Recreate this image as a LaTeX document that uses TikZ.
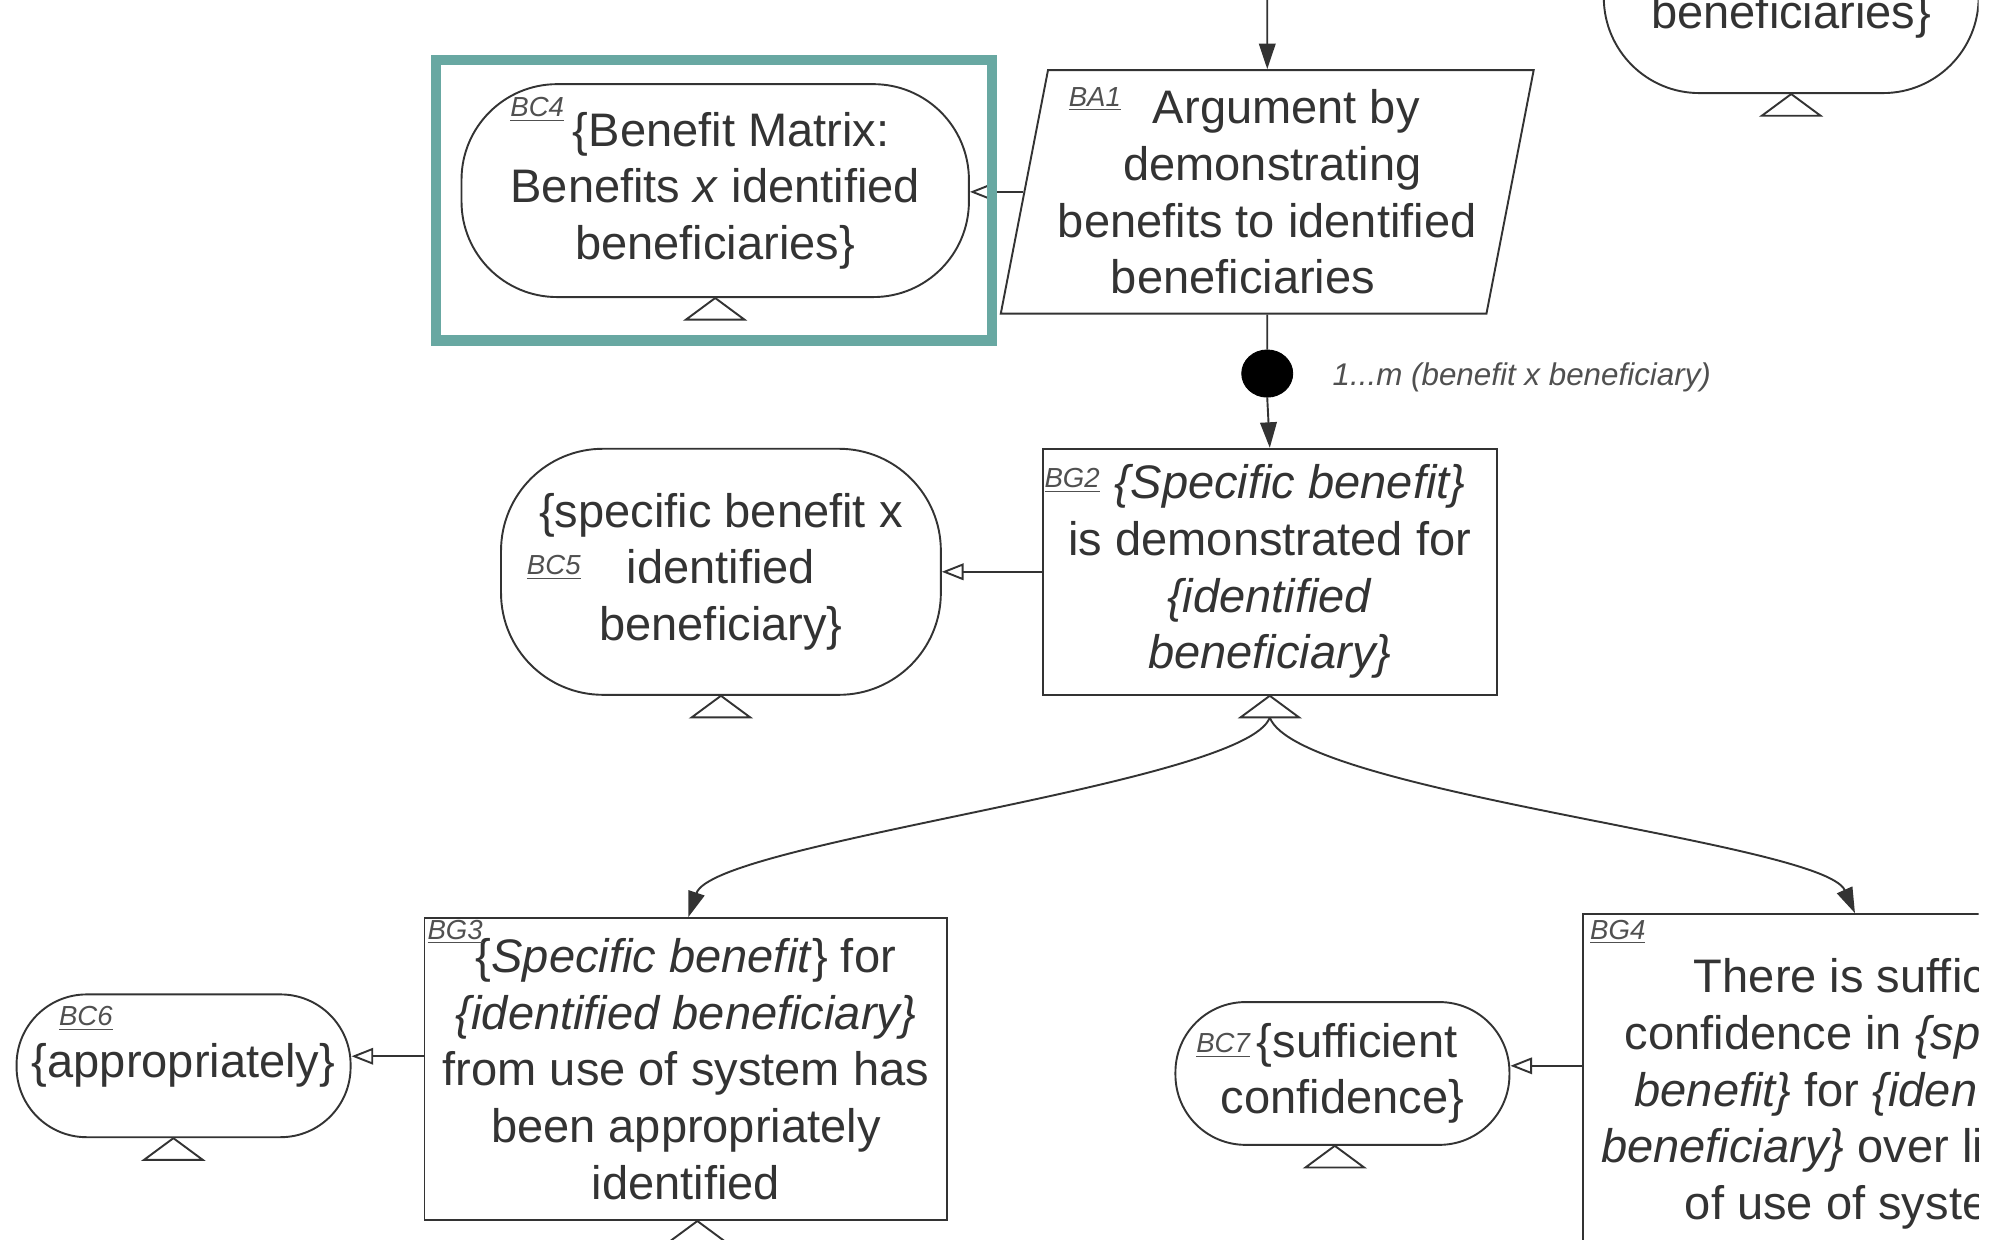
\documentclass[tikz,border=0pt]{standalone}
\usepackage{fontspec}
\setmainfont{Liberation Sans}
\usetikzlibrary{arrows.meta,calc,shapes.geometric}

\definecolor{ink}{HTML}{333333}
\definecolor{tagc}{HTML}{505050}
\definecolor{frameteal}{RGB}{104,168,162}

% hollow "undeveloped" triangle hanging below an element
\newcommand\undevmark[1]{\draw[undev] (#1) -- ++(-23,17) -- ++(46,0) -- cycle;}
\newcommand\tagtext[1]{\underline{#1}}

\begin{document}
\begin{tikzpicture}[x=0.2mm,y=-0.2mm,
  body/.style={font=\fontsize{21}{25.3}\selectfont, text=ink, align=center},
  goal/.style={body, draw=ink, line width=0.3mm, rectangle, inner sep=0pt},
  context/.style={body, draw=ink, line width=0.3mm, rectangle, rounded corners=#1, inner sep=0pt},
  strategy/.style={body, draw=ink, line width=0.3mm, trapezium, trapezium left angle=77,
    trapezium right angle=103, trapezium stretches body, inner sep=0pt},
  tag/.style={font=\fontsize{12.3}{14}\selectfont\itshape, text=tagc, inner sep=0pt, anchor=west},
  link/.style={draw=ink, line width=0.3mm},
  solved/.style={link, -{Triangle[length=4mm,width=2.6mm]}},
  incontext/.style={link, -{Triangle[open,length=3.4mm,width=2.6mm,fill=white]}},
  undev/.style={draw=ink, line width=0.3mm, fill=white, line join=miter},
]
\useasboundingbox (0,0) rectangle (1568,972);
\fill[white] (0,0) rectangle (1568,972);

\begin{scope}
\clip (0,0) rectangle (1552,972);

% ---------- elements ----------
\node[context=15mm, minimum width=58.8mm, minimum height=36mm] (bctop) at (1405,-17) {};
\node[body, anchor=base] (bctoptext) at (1405,22) {beneficiaries\}};

\node[strategy, minimum width=83.6mm, minimum height=38.2mm] (ba1) at (994,150.5)
  {\hspace*{6mm}Argument by\\\hspace*{1.6mm}demonstrating\\benefits to identified\hspace*{3.2mm}\\beneficiaries\hspace*{7.6mm}};

\node[context=15mm, minimum width=79.6mm, minimum height=33.4mm] (bc4) at (561,149.5)
  {\hspace*{5mm}\{Benefit Matrix:\\Benefits \textit{x} identified\\beneficiaries\}};

\node[ellipse, fill=black, draw=black, minimum width=8mm, minimum height=7.4mm, inner sep=0pt] (mult) at (994,293) {};
\node[font=\fontsize{14}{16}\selectfont\itshape, text=tagc, anchor=west, inner sep=0pt] (multtext) at (1045,296)
  {1...m (benefit x beneficiary)};

\node[goal, minimum width=71.2mm, minimum height=38.6mm] (bg2) at (996,448.5)
  {\hspace*{6.4mm}\textit{\{Specific benefit\}}\\is demonstrated for\\\textit{\{identified}\\\textit{beneficiary\}}};

\node[context=16mm, minimum width=69mm, minimum height=38.6mm] (bc5) at (565.5,448.5)
  {\{specific benefit x\\identified\\beneficiary\}};

\node[goal, minimum width=82mm, minimum height=47.4mm] (bg3) at (538,838.5)
  {\{\textit{Specific benefit}\} for\\\textit{\{identified beneficiary\}}\\from use of system has\\been appropriately\\identified};

\node[context=11mm, minimum width=52.4mm, minimum height=22.4mm] (bc6) at (144,836)
  {\{appropriately\}};

\node[goal, minimum width=85.6mm, minimum height=56.4mm] (bg4) at (1456,858)
  {\hspace*{6.8mm}There is sufficient\\confidence in \textit{\{specific}\\\textit{benefit\}} for \textit{\{identified}\\\textit{beneficiary\}} over lifetime\\of use of system};

\node[context=11mm, minimum width=52.4mm, minimum height=22.4mm] (bc7) at (1053,842)
  {\hspace*{4.6mm}\{sufficient\\confidence\}};

% ---------- identifiers ----------
\node[tag] (ba1tag) at (838,78) {\tagtext{BA1}};
\node[tag] (bc4tag) at (400,86) {\tagtext{BC4}};
\node[tag] (bg2tag) at (819,377) {\tagtext{BG2}};
\node[tag] (bc5tag) at (413,445) {\tagtext{BC5}};
\node[tag] (bg3tag) at (335,731) {\tagtext{BG3}};
\node[tag] (bc6tag) at (46,799) {\tagtext{BC6}};
\node[tag] (bg4tag) at (1247,731) {\tagtext{BG4}};
\node[tag] (bc7tag) at (938,820) {\tagtext{BC7}};

% ---------- undeveloped markers ----------
\undevmark{bctop.south}
\undevmark{bc4.south}
\undevmark{bc5.south}
\undevmark{bg2.south}
\undevmark{$(bc6.south)+(-8,0)$}
\undevmark{$(bc7.south)+(-6,0)$}
\undevmark{$(bg3.south)+(9,0)$}

% ---------- connectors ----------
\coordinate (topin) at (994,-10);
\draw[solved] (topin) -- (ba1.north);
\draw[incontext] (ba1.west) -- (ba1.west -| bc4.east);
\draw[link] (ba1.south) -- (mult.north);
\draw[solved] (mult.south) -- (bg2.north);
\draw[incontext] (bg2.west) -- (bg2.west -| bc5.east);

\coordinate (split) at ($(bg2.south)+(0,17)$);
\draw[solved] (split) .. controls (978,615) and (560,660) .. ([xshift=0.4mm]bg3.north);
\draw[solved] (split) .. controls (1018,622) and (1430,660) .. ([xshift=-0.2mm]bg4.north);

\draw[incontext] ([yshift=2mm]bg3.west) -- ([yshift=2mm]bg3.west -| bc6.east);
\draw[incontext] ([yshift=4.4mm]bg4.west) -- ([yshift=4.4mm]bg4.west -| bc7.east);
\end{scope}

% highlight frame around the benefit matrix context
\draw[frameteal, line width=1.6mm] (342,47) rectangle (778,267);
\end{tikzpicture}
\end{document}
